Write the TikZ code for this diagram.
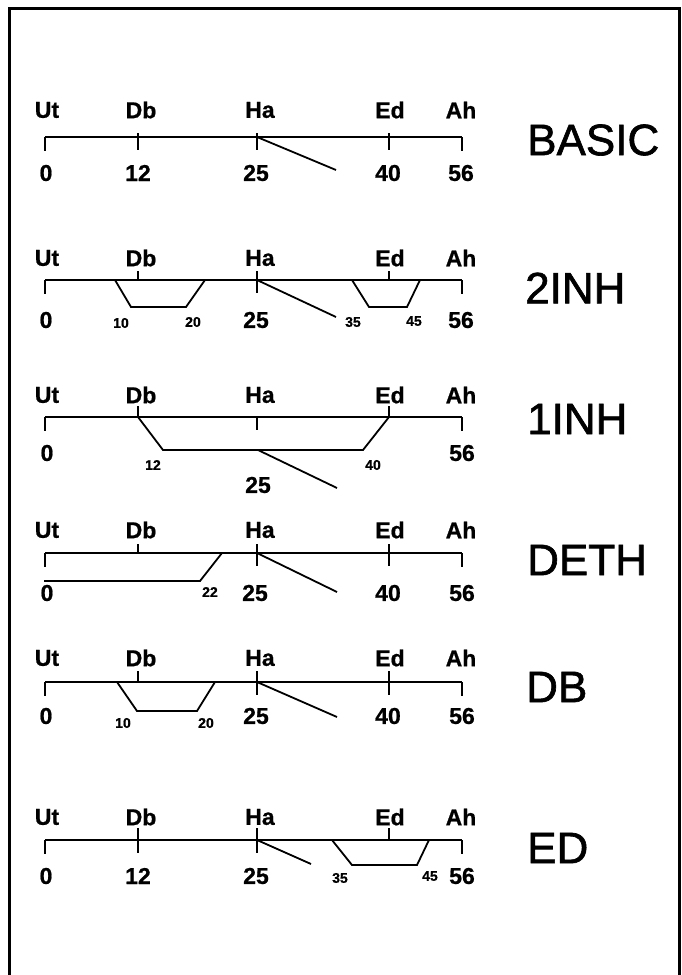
\documentclass[tikz,border=0pt]{standalone}
\usepackage{fontspec}
\setmainfont{Liberation Sans}
\newfontfamily\lblfont{Liberation Sans Bold}[FakeBold=0.8]
\newfontfamily\ttlfont{Liberation Sans}[FakeBold=1.4]

% height of the upper part of the tick marks
\def\tkh{10}

% one time line: axis from Ut (0) to Ah (56), end brackets and stage labels
% #1 name prefix, #2 axis height, #3 label offset
\newcommand{\tlaxis}[3]{%
  \coordinate (#1-0)  at (45,#2);
  \coordinate (#1-12) at (138,#2);
  \coordinate (#1-25) at (257,#2);
  \coordinate (#1-40) at (389,#2);
  \coordinate (#1-56) at (462,#2);
  \draw[rule] (#1-0) -- (#1-56);
  \draw[rule] (#1-0) -- ++(0,14);
  \draw[rule] (#1-56) -- ++(0,14);
  \path (#1-0)  ++(2,#3)  node[lbl] (#1-ut) {Ut};
  \path (#1-12) ++(3,#3)  node[lbl] (#1-db) {Db};
  \path (#1-25) ++(3,#3)  node[lbl] (#1-ha) {Ha};
  \path (#1-40) ++(1,#3)  node[lbl] (#1-ed) {Ed};
  \path (#1-56) ++(-1,#3) node[lbl] (#1-ah) {Ah};
}
% tick marks: crossing the axis, above it only, below it only
\newcommand{\tkcross}[1]{\draw[rule] (#1) ++(0,-\tkh) -- ++(0,\tkh+13);}
\newcommand{\tkup}[1]{\draw[rule] (#1) ++(0,-\tkh) -- (#1);}
\newcommand{\tkdown}[1]{\draw[rule] (#1) -- ++(0,13);}

\begin{document}
\begin{tikzpicture}[x=1pt,y=-1pt,
  rule/.style={line width=1.8pt},
  lbl/.style={inner sep=0pt,font=\fontsize{23}{23}\lblfont},
  num/.style={inner sep=0pt,font=\fontsize{23}{23}\lblfont},
  snum/.style={inner sep=0pt,font=\fontsize{14}{14}\lblfont},
  ttl/.style={inner sep=0pt,anchor=west,font=\fontsize{44}{44}\ttlfont}]
\useasboundingbox (0,0) rectangle (682,975);

% frame, open at the bottom
\coordinate (f1) at (9,975);
\coordinate (f2) at (9,8);
\coordinate (f3) at (679,8);
\coordinate (f4) at (679,975);
\draw[line width=3pt] (f1) -- (f2) -- (f3) -- (f4);

% ---------- BASIC ----------
\def\tkh{4}
\tlaxis{b}{137}{-27}
\tkcross{b-12} \tkcross{b-25} \tkcross{b-40}
\coordinate (b-dg) at (336,170);
\draw[rule] (b-25) -- (b-dg);
\node[num] (b-n0)  at (46,173)  {0};
\node[num] (b-n12) at (138,173) {12};
\node[num] (b-n25) at (256,173) {25};
\node[num] (b-n40) at (388,173) {40};
\node[num] (b-n56) at (461,173) {56};
\node[ttl] (b-t) at (527,140) {BASIC};

% ---------- 2INH ----------
\def\tkh{9}
\tlaxis{t}{280}{-22}
\tkup{t-12} \tkcross{t-25} \tkup{t-40}
\coordinate (t-a1) at (115,280); \coordinate (t-a2) at (131,307);
\coordinate (t-a3) at (186,307); \coordinate (t-a4) at (205,280);
\draw[rule] (t-a1) -- (t-a2) -- (t-a3) -- (t-a4);
\coordinate (t-c1) at (352,280); \coordinate (t-c2) at (369,307);
\coordinate (t-c3) at (407,307); \coordinate (t-c4) at (420,280);
\draw[rule] (t-c1) -- (t-c2) -- (t-c3) -- (t-c4);
\coordinate (t-dg) at (336,317);
\draw[rule] (t-25) -- (t-dg);
\node[num]  (t-n0)  at (46,320)  {0};
\node[snum] (t-n10) at (121,323) {10};
\node[snum] (t-n20) at (193,322) {20};
\node[num]  (t-n25) at (256,320) {25};
\node[snum] (t-n35) at (353,322) {35};
\node[snum] (t-n45) at (414,321) {45};
\node[num]  (t-n56) at (461,320) {56};
\node[ttl] (t-t) at (525,288) {2INH};

% ---------- 1INH ----------
\def\tkh{11}
\tlaxis{o}{417}{-22}
\tkup{o-12} \tkdown{o-25} \tkup{o-40}
\coordinate (o-a2) at (163,450); \coordinate (o-a3) at (363,450);
\draw[rule] (o-12) -- (o-a2) -- (o-a3) -- (o-40);
\coordinate (o-ds) at (258,450);
\coordinate (o-dg) at (337,488);
\draw[rule] (o-ds) -- (o-dg);
\node[num]  (o-n0)  at (47,453)  {0};
\node[snum] (o-n12) at (153,465) {12};
\node[num]  (o-n25) at (258,485) {25};
\node[snum] (o-n40) at (373,465) {40};
\node[num]  (o-n56) at (462,453) {56};
\node[ttl] (o-t) at (527,419) {1INH};

% ---------- DETH ----------
\def\tkh{9}
\tlaxis{d}{553}{-23}
\tkup{d-12} \tkcross{d-25} \tkcross{d-40}
\coordinate (d-a1) at (44,581); \coordinate (d-a2) at (200,581);
\coordinate (d-a3) at (222,553);
\draw[rule] (d-a1) -- (d-a2) -- (d-a3);
\coordinate (d-dg) at (337,592);
\draw[rule] (d-25) -- (d-dg);
\node[num]  (d-n0)  at (47,593)  {0};
\node[snum] (d-n22) at (210,592) {22};
\node[num]  (d-n25) at (255,593) {25};
\node[num]  (d-n40) at (388,593) {40};
\node[num]  (d-n56) at (462,593) {56};
\node[ttl] (d-t) at (527,560) {DETH};

% ---------- DB ----------
\def\tkh{11}
\tlaxis{e}{682}{-24}
\tkup{e-12} \tkcross{e-25} \tkcross{e-40}
\coordinate (e-a1) at (117,682); \coordinate (e-a2) at (137,711);
\coordinate (e-a3) at (197,711); \coordinate (e-a4) at (215,682);
\draw[rule] (e-a1) -- (e-a2) -- (e-a3) -- (e-a4);
\coordinate (e-dg) at (337,717);
\draw[rule] (e-25) -- (e-dg);
\node[num]  (e-n0)  at (46,716)  {0};
\node[snum] (e-n10) at (123,723) {10};
\node[snum] (e-n20) at (206,723) {20};
\node[num]  (e-n25) at (256,716) {25};
\node[num]  (e-n40) at (388,716) {40};
\node[num]  (e-n56) at (462,716) {56};
\node[ttl] (e-t) at (526,687) {DB};

% ---------- ED ----------
\def\tkh{12}
\tlaxis{g}{840}{-23}
\tkcross{g-12} \tkcross{g-25} \tkup{g-40}
\coordinate (g-a1) at (332,840); \coordinate (g-a2) at (352,865);
\coordinate (g-a3) at (417,865); \coordinate (g-a4) at (429,840);
\draw[rule] (g-a1) -- (g-a2) -- (g-a3) -- (g-a4);
\coordinate (g-dg) at (311,864);
\draw[rule] (g-25) -- (g-dg);
\node[num]  (g-n0)  at (46,876)  {0};
\node[num]  (g-n12) at (138,876) {12};
\node[num]  (g-n25) at (256,876) {25};
\node[snum] (g-n35) at (340,878) {35};
\node[snum] (g-n45) at (430,876) {45};
\node[num]  (g-n56) at (462,876) {56};
\node[ttl] (g-t) at (527,848) {ED};
\end{tikzpicture}
\end{document}
